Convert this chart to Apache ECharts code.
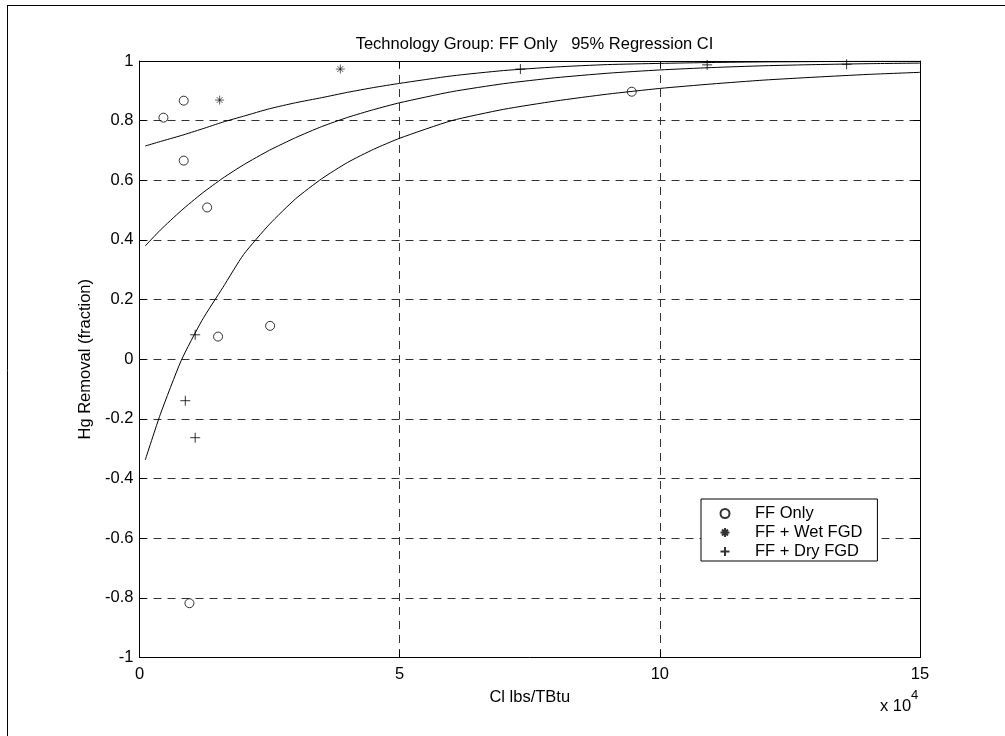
<!DOCTYPE html>
<html>
<head>
<meta charset="utf-8">
<script src="https://cdn.jsdelivr.net/npm/echarts@6/dist/echarts.min.js"></script>
<style>
html,body{margin:0;padding:0;background:#fff;}
#chart{width:1005px;height:736px;}
</style>
</head>
<body>
<div id="chart"></div>
<script>
// Cl in units of 10^4 lbs/TBtu
const ffOnlyX = [0.46, 0.85, 0.85, 1.30, 1.51, 2.51, 0.96, 9.46];
const ffOnlyY = [0.81, 0.867, 0.666, 0.509, 0.076, 0.112, -0.818, 0.897];
const wetFgdX = [1.54, 3.86];
const wetFgdY = [0.869, 0.973];
const dryFgdX = [1.07, 0.88, 1.07, 7.32, 10.91, 13.59];
const dryFgdY = [0.082, -0.139, -0.263, 0.973, 0.987, 0.989];

const curveX   = [0.11, 0.4, 0.8, 1.2, 1.6, 2, 2.5, 3, 3.5, 4, 4.5, 5, 6, 7, 8, 9, 10, 11, 12, 13, 14, 15];
const upperCI  = [0.715, 0.73, 0.75, 0.772, 0.795, 0.815, 0.84, 0.86, 0.877, 0.895, 0.911, 0.925, 0.95, 0.968, 0.98, 0.988, 0.992, 0.995, 0.997, 0.998, 0.999, 0.999];
const fitLine  = [0.38, 0.433, 0.498, 0.556, 0.607, 0.652, 0.701, 0.743, 0.78, 0.811, 0.837, 0.86, 0.897, 0.924, 0.944, 0.959, 0.97, 0.978, 0.984, 0.988, 0.991, 0.993];
const lowerCI  = [-0.338, -0.185, -0.005, 0.13, 0.24, 0.351, 0.453, 0.538, 0.605, 0.66, 0.704, 0.741, 0.80, 0.838, 0.866, 0.889, 0.908, 0.923, 0.936, 0.946, 0.955, 0.962];

const titleText = 'Technology Group: FF Only   95% Regression CI';
const xName = 'Cl lbs/TBtu';
const yName = 'Hg Removal (fraction)';
const seriesNames = ['FF Only', 'FF + Wet FGD', 'FF + Dry FGD'];

const pair = (xs, ys) => xs.map((x, i) => [x, ys[i]]);
const FONT = 'Liberation Sans, Arial, Helvetica, sans-serif';
const FS = 16.5;

const plusPath = 'path://M5,0L5,10M0,5L10,5';
const starPath = 'path://M5,0L5,10M0,5L10,5M1.7,1.7L8.3,8.3M8.3,1.7L1.7,8.3';

const chart = echarts.init(document.getElementById('chart'), null, {renderer: 'canvas'});

const gridLine = {show: true, lineStyle: {color: '#333', width: 1, type: [8, 6]}};

const option = {
  backgroundColor: '#fff',
  animation: false,
  textStyle: {fontFamily: FONT, color: '#000'},
  title: {
    text: titleText,
    left: 529.5, top: 31, textAlign: 'center',
    textStyle: {fontFamily: FONT, fontSize: FS, fontWeight: 'normal', color: '#000'}
  },
  grid: {left: 139.5, top: 61, right: 85, bottom: 78.5, containLabel: false},
  legend: {
    data: seriesNames,
    orient: 'vertical',
    left: 701, top: 499,
    itemWidth: 46, itemHeight: 9, itemGap: 0,
    padding: [5, 15, 0, 17],
    backgroundColor: '#fff',
    borderColor: '#000', borderWidth: 1,
    borderRadius: 0,
    selectedMode: false,
    textStyle: {fontFamily: FONT, fontSize: FS, color: '#000', lineHeight: 19, padding: [0,0,0,2]}
  },
  xAxis: [{
    type: 'value', min: 0, max: 15, interval: 5,
    name: xName, nameLocation: 'middle', nameGap: 31,
    nameTextStyle: {fontFamily: FONT, fontSize: FS, color: '#000'},
    axisLine: {show: true, onZero: false, lineStyle: {color: '#000', width: 1}},
    axisTick: {show: true, inside: true, length: 7, lineStyle: {color: '#000'}},
    axisLabel: {margin: 8, fontFamily: FONT, fontSize: FS, color: '#000'},
    splitLine: gridLine
  }, {
    type: 'value', min: 0, max: 15, interval: 5, position: 'top',
    axisLine: {show: true, onZero: false, lineStyle: {color: '#000', width: 1}},
    axisTick: {show: true, inside: true, length: 7, lineStyle: {color: '#000'}},
    axisLabel: {show: false}, splitLine: {show: false}
  }],
  yAxis: [{
    type: 'value', min: -1, max: 1, interval: 0.2,
    name: yName, nameLocation: 'middle', nameGap: 38, nameRotate: 90,
    nameTextStyle: {fontFamily: FONT, fontSize: FS, color: '#000'},
    axisLine: {show: true, onZero: false, lineStyle: {color: '#000', width: 1}},
    axisTick: {show: true, inside: true, length: 7, lineStyle: {color: '#000'}},
    axisLabel: {margin: 6, fontFamily: FONT, fontSize: FS, color: '#000',
      formatter: v => String(+v.toFixed(1))},
    splitLine: gridLine
  }, {
    type: 'value', min: -1, max: 1, interval: 0.2, position: 'right',
    axisLine: {show: true, onZero: false, lineStyle: {color: '#000', width: 1}},
    axisTick: {show: true, inside: true, length: 7, lineStyle: {color: '#000'}},
    axisLabel: {show: false}, splitLine: {show: false}
  }],
  series: [
    {name: 'Upper 95% CI', type: 'line', data: pair(curveX, upperCI), symbol: 'none', smooth: 0.2,
     lineStyle: {color: '#000', width: 1}, z: 3},
    {name: 'Regression fit', type: 'line', data: pair(curveX, fitLine), symbol: 'none', smooth: 0.2,
     lineStyle: {color: '#000', width: 1}, z: 3},
    {name: 'Lower 95% CI', type: 'line', data: pair(curveX, lowerCI), symbol: 'none', smooth: 0.2,
     lineStyle: {color: '#000', width: 1}, z: 3},
    {name: seriesNames[0], type: 'scatter', data: pair(ffOnlyX, ffOnlyY), symbol: 'circle', symbolSize: 9,
     itemStyle: {color: 'rgba(0,0,0,0)', borderColor: '#000', borderWidth: 1}, z: 4},
    {name: seriesNames[1], type: 'scatter', data: pair(wetFgdX, wetFgdY), symbol: starPath, symbolSize: 9,
     itemStyle: {color: 'none', borderColor: '#000', borderWidth: 0.8}, z: 4},
    {name: seriesNames[2], type: 'scatter', data: pair(dryFgdX, dryFgdY), symbol: plusPath, symbolSize: 10,
     itemStyle: {color: 'none', borderColor: '#000', borderWidth: 1}, z: 4}
  ],
  graphic: [
    {type: 'line', shape: {x1: 7, y1: 5.5, x2: 1005, y2: 5.5}, style: {stroke: '#000', lineWidth: 1}, silent: true},
    {type: 'line', shape: {x1: 7.5, y1: 5, x2: 7.5, y2: 736}, style: {stroke: '#000', lineWidth: 1}, silent: true},
    {type: 'text', left: 880, top: 698, style: {text: 'x 10', font: FS + 'px ' + FONT, fill: '#000'}},
    {type: 'text', left: 911, top: 689, style: {text: '4', font: '13px ' + FONT, fill: '#000'}}
  ]
};
chart.setOption(option);
</script>
</body>
</html>
